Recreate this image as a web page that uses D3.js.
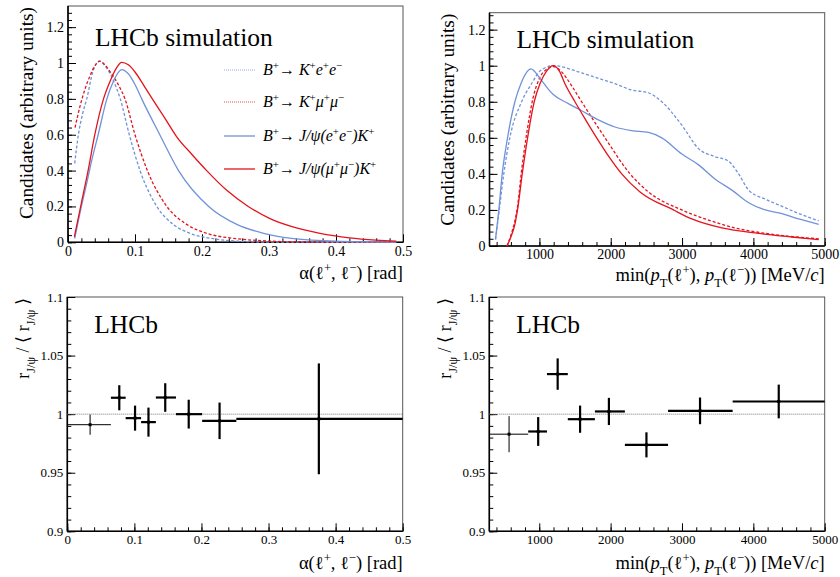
<!DOCTYPE html>
<html>
<head>
<meta charset="utf-8">
<script src="https://cdn.jsdelivr.net/npm/d3@7"></script>
<style>
  body { margin: 0; background: #fff; }
  svg { display: block; }
</style>
</head>
<body>
<div id="chart"></div>
<script>
// ---- data ----
// opening angle alpha (rad) -> normalised candidates
const alphaKee = [[0.010, 0.44], [0.0155, 0.60], [0.022, 0.72], [0.028, 0.80], [0.037, 0.95], [0.047, 1.01], [0.058, 0.97], [0.068, 0.90], [0.078, 0.80], [0.0915, 0.60], [0.1075, 0.40], [0.1325, 0.20], [0.157, 0.10], [0.182, 0.05], [0.217, 0.02], [0.26, 0.005], [0.30, 0.001], [0.49, 0]];
const alphaKmm = [[0.0105, 0.64], [0.018, 0.76], [0.025, 0.85], [0.033, 0.93], [0.041, 0.99], [0.047, 1.01], [0.055, 0.99], [0.065, 0.94], [0.075, 0.88], [0.085, 0.80], [0.100, 0.60], [0.1185, 0.40], [0.1475, 0.20], [0.177, 0.10], [0.207, 0.05], [0.252, 0.02], [0.30, 0.007], [0.35, 0.002], [0.49, 0]];
const alphaJee = [[0.010, 0.02], [0.020, 0.20], [0.028, 0.33], [0.035, 0.45], [0.045, 0.60], [0.058, 0.80], [0.068, 0.90], [0.080, 0.963], [0.090, 0.94], [0.100, 0.88], [0.110, 0.80], [0.137, 0.60], [0.165, 0.40], [0.210, 0.20], [0.252, 0.10], [0.292, 0.05], [0.337, 0.02], [0.40, 0.006], [0.49, 0.001]];
const alphaJmm = [[0.0095, 0.03], [0.020, 0.22], [0.030, 0.40], [0.040, 0.60], [0.053, 0.80], [0.063, 0.90], [0.072, 0.97], [0.080, 1.004], [0.090, 0.99], [0.100, 0.95], [0.114, 0.87], [0.1275, 0.79], [0.145, 0.69], [0.162, 0.59], [0.185, 0.49], [0.207, 0.40], [0.237, 0.29], [0.269, 0.20], [0.30, 0.135], [0.332, 0.09], [0.376, 0.05], [0.42, 0.025], [0.46, 0.012], [0.49, 0.006]];

// min lepton pT (MeV/c) -> normalised candidates
const ptKee = [[384, 0.037], [431, 0.18], [500, 0.40], [585, 0.60], [750, 0.80], [890, 0.90], [1007, 0.97], [1194, 1.0], [1592, 0.96], [1826, 0.93], [2060, 0.90], [2294, 0.865], [2528, 0.85], [2716, 0.80], [2997, 0.67], [3231, 0.54], [3465, 0.495], [3652, 0.47], [3793, 0.40], [3933, 0.31], [4167, 0.26], [4401, 0.22], [4635, 0.18], [4916, 0.14]];
const ptKmm = [[545, 0], [600, 0.06], [656, 0.14], [693, 0.22], [750, 0.42], [820, 0.62], [910, 0.82], [1000, 0.93], [1100, 0.98], [1194, 0.995], [1300, 0.97], [1450, 0.89], [1592, 0.80], [1920, 0.60], [2271, 0.40], [2528, 0.30], [2997, 0.20], [3400, 0.14], [3746, 0.10], [4167, 0.07], [4916, 0.04]];
const ptJee = [[384, 0.037], [431, 0.20], [478, 0.40], [553, 0.60], [656, 0.80], [740, 0.90], [880, 0.982], [1007, 0.93], [1124, 0.87], [1194, 0.84], [1405, 0.79], [1592, 0.75], [1826, 0.70], [2060, 0.66], [2294, 0.64], [2528, 0.63], [2716, 0.60], [2997, 0.51], [3231, 0.45], [3465, 0.37], [3699, 0.31], [3933, 0.24], [4167, 0.20], [4401, 0.18], [4635, 0.15], [4916, 0.12]];
const ptJmm = [[545, 0], [600, 0.05], [656, 0.12], [693, 0.2], [759, 0.4], [834, 0.6], [927, 0.8], [1007, 0.9], [1100, 0.97], [1194, 1.0], [1280, 0.97], [1358, 0.9], [1498, 0.8], [1648, 0.7], [1803, 0.6], [1967, 0.5], [2154, 0.4], [2411, 0.3], [2879, 0.2], [3137, 0.15], [3558, 0.1], [4073, 0.07], [4541, 0.05], [4916, 0.035]];

// ratio r_J/psi / <r_J/psi> in bins
const alphaEdges = [0, 0.065, 0.087, 0.11, 0.132, 0.162, 0.201, 0.252, 0.5];
const alphaCenters = [0.034, 0.0775, 0.101, 0.121, 0.146, 0.181, 0.227, 0.375];
const alphaRatio = [0.991, 1.014, 0.9966, 0.9932, 1.0142, 1.0, 0.9943, 0.996];
const alphaErr = [0.0086, 0.0107, 0.0107, 0.0124, 0.0122, 0.0123, 0.0156, 0.0473];

const ptEdges = [300, 845, 1108, 1400, 1780, 2200, 2805, 3710, 5000];
const ptCenters = [577, 985, 1258, 1572, 1976, 2502, 3253, 4356];
const ptRatio = [0.9829, 0.9852, 1.0342, 0.9957, 1.0023, 0.9738, 1.0028, 1.0108];
const ptErr = [0.0154, 0.0123, 0.0134, 0.0116, 0.0116, 0.0107, 0.0114, 0.0144];

const blue = '#7092da';
const red = '#e4131c';
const serif = '"Liberation Serif", "DejaVu Serif", serif';

// text pieces: [string, 'sup'|'sub'|null, italic]
const legendItems = [
  { data: alphaKee, color: blue, dash: '3,2', label: [['B', null, 1], ['+', 'sup'], ['\u2192 '], ['K', null, 1], ['+', 'sup'], ['e', null, 1], ['+', 'sup'], ['e', null, 1], ['\u2212', 'sup']] },
  { data: alphaKmm, color: red, dash: '3,2', label: [['B', null, 1], ['+', 'sup'], ['\u2192 '], ['K', null, 1], ['+', 'sup'], ['\u03bc', null, 1], ['+', 'sup'], ['\u03bc', null, 1], ['\u2212', 'sup']] },
  { data: alphaJee, color: blue, dash: null, label: [['B', null, 1], ['+', 'sup'], ['\u2192 '], ['J/\u03c8(e', null, 1], ['+', 'sup'], ['e', null, 1], ['\u2212', 'sup'], [')K', null, 1], ['+', 'sup']] },
  { data: alphaJmm, color: red, dash: null, label: [['B', null, 1], ['+', 'sup'], ['\u2192 '], ['J/\u03c8(\u03bc', null, 1], ['+', 'sup'], ['\u03bc', null, 1], ['\u2212', 'sup'], [')K', null, 1], ['+', 'sup']] },
];

const alphaTitle = [['\u03b1(\u2113'], ['+', 'sup'], [', \u2113'], ['\u2212', 'sup'], [') [rad]']];
const ptTitle = [['min('], ['p', null, 1], ['T', 'sub'], ['(\u2113'], ['+', 'sup'], ['), '], ['p', null, 1], ['T', 'sub'], ['(\u2113'], ['\u2212', 'sup'], [')) [MeV/'], ['c', null, 1], [']']];
const ratioTitle = [['r'], ['J/\u03c8', 'sub'], [' / \u27e8 r'], ['J/\u03c8', 'sub'], [' \u27e9']];

const svg = d3.select('#chart').append('svg')
  .attr('width', 840)
  .attr('height', 577)
  .attr('font-family', serif);

function rich(text, parts, size) {
  let cur = 0;
  parts.forEach((p) => {
    const mode = p[1];
    const target = mode === 'sup' ? -0.38 * size : (mode === 'sub' ? 0.32 * size : 0);
    const t = text.append('tspan').text(p[0]).attr('dy', target - cur);
    cur = target;
    if (mode) t.attr('font-size', size * 0.68);
    if (p[2]) t.attr('font-style', 'italic');
  });
}

function range(a, b, step) {
  const out = [];
  for (let v = a; v <= b + step * 1e-6; v += step) out.push(+v.toFixed(6));
  return out;
}

function panel(cfg) {
  const x = d3.scaleLinear().domain(cfg.xDomain).range([cfg.left, cfg.right]);
  const y = d3.scaleLinear().domain(cfg.yDomain).range([cfg.bottom, cfg.top]);
  const g = svg.append('g');

  // frame
  g.append('rect')
    .attr('x', cfg.left).attr('y', cfg.top)
    .attr('width', cfg.right - cfg.left).attr('height', cfg.bottom - cfg.top)
    .attr('fill', 'none').attr('stroke', '#555').attr('stroke-width', 1);

  // axes with inward ticks
  const xMinor = g.append('g').attr('transform', `translate(0,${cfg.bottom})`)
    .call(d3.axisBottom(x).tickValues(cfg.xMinor).tickSize(-4).tickFormat(''));
  const xMajor = g.append('g').attr('transform', `translate(0,${cfg.bottom})`)
    .call(d3.axisBottom(x).tickValues(cfg.xMajor).tickSize(-8).tickPadding(cfg.xPad).tickFormat(cfg.xFormat));
  const yMinor = g.append('g').attr('transform', `translate(${cfg.left},0)`)
    .call(d3.axisLeft(y).tickValues(cfg.yMinor).tickSize(-4).tickFormat(''));
  const yMajor = g.append('g').attr('transform', `translate(${cfg.left},0)`)
    .call(d3.axisLeft(y).tickValues(cfg.yMajor).tickSize(-8).tickPadding(4).tickFormat(cfg.yFormat));
  [xMinor, xMajor, yMinor, yMajor].forEach((a) => {
    a.attr('font-family', serif);
    a.select('.domain').remove();
    a.selectAll('line').attr('stroke', '#000').attr('stroke-width', 1);
    a.selectAll('text').attr('font-family', serif).attr('font-size', cfg.tickSize).attr('fill', '#000');
  });

  g.append('line')
    .attr('x1', cfg.left).attr('x2', cfg.right).attr('y1', cfg.bottom).attr('y2', cfg.bottom)
    .attr('stroke', '#000').attr('stroke-width', 1.6);
  g.append('line')
    .attr('x1', cfg.left).attr('x2', cfg.left).attr('y1', cfg.top).attr('y2', cfg.bottom)
    .attr('stroke', '#000').attr('stroke-width', 1.6);

  // titles
  const xt = g.append('text')
    .attr('x', cfg.right).attr('y', cfg.xTitleY)
    .attr('text-anchor', 'end').attr('font-size', 18.5);
  rich(xt, cfg.xTitle, 18.5);

  const yt = g.append('text')
    .attr('transform', `translate(${cfg.yTitleX},${cfg.top + 1}) rotate(-90)`)
    .attr('text-anchor', 'end').attr('font-size', cfg.yTitleSize);
  if (typeof cfg.yTitle === 'string') yt.text(cfg.yTitle);
  else rich(yt, cfg.yTitle, cfg.yTitleSize);

  g.append('text')
    .attr('x', cfg.left + 27).attr('y', cfg.labelY)
    .attr('font-size', 25.5)
    .text(cfg.label);

  return { g, x, y };
}

const curveLine = (x, y) => d3.line()
  .curve(d3.curveMonotoneX)
  .x(d => x(d[0]))
  .y(d => y(d[1]));

function drawCurves(p, series) {
  series.forEach((s) => {
    p.g.append('path')
      .datum(s.data)
      .attr('fill', 'none')
      .attr('stroke', s.color)
      .attr('stroke-width', 1.3)
      .attr('stroke-dasharray', s.dash)
      .attr('d', curveLine(p.x, p.y));
  });
}

function drawRatio(p, edges, centers, vals, errs) {
  p.g.append('line')
    .attr('x1', p.x.range()[0]).attr('x2', p.x.range()[1])
    .attr('y1', p.y(1)).attr('y2', p.y(1))
    .attr('stroke', '#777').attr('stroke-width', 1)
    .attr('stroke-dasharray', '1,1');
  const pts = p.g.append('g').selectAll('g')
    .data(centers.map((c, i) => ({ c, lo: edges[i], hi: edges[i + 1], v: vals[i], e: errs[i], i })))
    .enter()
    .append('g');
  pts.append('line')
    .attr('x1', d => p.x(d.lo)).attr('x2', d => p.x(d.hi))
    .attr('y1', d => p.y(d.v)).attr('y2', d => p.y(d.v))
    .attr('stroke', '#000').attr('stroke-width', d => (d.i === 0 ? 1 : 2.2));
  pts.append('line')
    .attr('x1', d => p.x(d.c)).attr('x2', d => p.x(d.c))
    .attr('y1', d => p.y(d.v - d.e)).attr('y2', d => p.y(d.v + d.e))
    .attr('stroke', '#000').attr('stroke-width', d => (d.i === 0 ? 1 : 2.2));
  pts.append('rect')
    .attr('x', d => p.x(d.c) - 1.5).attr('y', d => p.y(d.v) - 1.5)
    .attr('width', 3).attr('height', 3)
    .attr('fill', '#000');
}

const alphaMajor = range(0, 0.5, 0.1);
const alphaMinor = range(0, 0.5, 0.02);
const ptMajor = range(1000, 5000, 1000);
const ptMinor = range(400, 5000, 200);
const fmtG = d => d3.format('~g')(d);
const fmtD = d3.format('d');

// top left
const pTL = panel({
  left: 68, right: 403, top: 6, bottom: 242.3,
  xDomain: [0, 0.5], yDomain: [0, 1.318],
  xMajor: alphaMajor, xMinor: alphaMinor, yMajor: range(0, 1.2, 0.2), yMinor: range(0, 1.28, 0.04),
  xFormat: fmtG, yFormat: fmtG, xPad: 4, tickSize: 14,
  xTitle: alphaTitle, xTitleY: 279,
  yTitle: 'Candidates (arbitrary units)', yTitleX: 33, yTitleSize: 19.3,
  label: 'LHCb simulation', labelY: 46,
});
drawCurves(pTL, legendItems);

// legend
const legendRows = [70, 102, 136, 169];
legendItems.forEach((s, i) => {
  pTL.g.append('line')
    .attr('x1', 224).attr('x2', 255)
    .attr('y1', legendRows[i]).attr('y2', legendRows[i])
    .attr('stroke', s.color).attr('stroke-width', 1.3)
    .attr('stroke-opacity', s.dash ? 0.5 : 1)
    .attr('stroke-dasharray', s.dash ? '1,1' : null);
  const t = pTL.g.append('text')
    .attr('x', 263).attr('y', legendRows[i] + 5)
    .attr('font-size', 16);
  rich(t, s.label, 16);
});

// top right
const pTR = panel({
  left: 489.5, right: 824.7, top: 12.7, bottom: 246,
  xDomain: [300, 5000], yDomain: [0, 1.294],
  xMajor: ptMajor, xMinor: ptMinor, yMajor: range(0, 1.2, 0.2), yMinor: range(0, 1.28, 0.04),
  xFormat: fmtD, yFormat: fmtG, xPad: 3, tickSize: 14,
  xTitle: ptTitle, xTitleY: 281,
  yTitle: 'Candidates (arbitrary units)', yTitleX: 453.5, yTitleSize: 19.3,
  label: 'LHCb simulation', labelY: 48,
});
drawCurves(pTR, [
  { data: ptKee, color: blue, dash: '3,2' },
  { data: ptKmm, color: red, dash: '3,2' },
  { data: ptJee, color: blue, dash: null },
  { data: ptJmm, color: red, dash: null },
]);

// bottom left
const pBL = panel({
  left: 67.3, right: 402.7, top: 297, bottom: 531.3,
  xDomain: [0, 0.5], yDomain: [0.9, 1.1],
  xMajor: alphaMajor, xMinor: alphaMinor, yMajor: range(0.9, 1.1, 0.05), yMinor: range(0.9, 1.1, 0.01),
  xFormat: fmtG, yFormat: fmtG, xPad: 3, tickSize: 13,
  xTitle: alphaTitle, xTitleY: 569,
  yTitle: ratioTitle, yTitleX: 29, yTitleSize: 18,
  label: 'LHCb', labelY: 333,
});
drawRatio(pBL, alphaEdges, alphaCenters, alphaRatio, alphaErr);

// bottom right
const pBR = panel({
  left: 489.3, right: 824.7, top: 297, bottom: 531.3,
  xDomain: [300, 5000], yDomain: [0.9, 1.1],
  xMajor: ptMajor, xMinor: ptMinor, yMajor: range(0.9, 1.1, 0.05), yMinor: range(0.9, 1.1, 0.01),
  xFormat: fmtD, yFormat: fmtG, xPad: 3, tickSize: 13,
  xTitle: ptTitle, xTitleY: 569,
  yTitle: ratioTitle, yTitleX: 451, yTitleSize: 18,
  label: 'LHCb', labelY: 333,
});
drawRatio(pBR, ptEdges, ptCenters, ptRatio, ptErr);
</script>
</body>
</html>
